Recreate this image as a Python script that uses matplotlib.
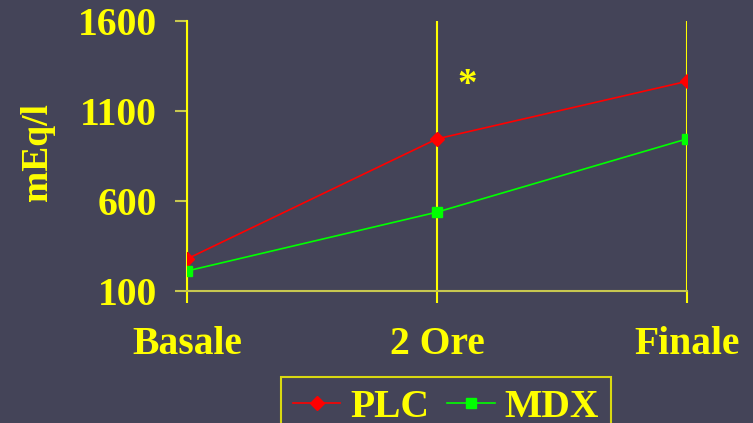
import matplotlib.pyplot as plt
from matplotlib.lines import Line2D

# Valori medi (mEq/l) per gruppo
tempi = ['Basale', '2 Ore', 'Finale']
plc = [278, 945, 1265]
mdx = [211, 538, 945]
y_ticks = [100, 600, 1100, 1600]

bg = '#444458'
giallo = '#ffff00'
giallo_scuro = '#c8c850'

plt.rcParams['font.family'] = ['Liberation Serif', 'DejaVu Serif']
plt.rcParams['font.weight'] = 'bold'

fig = plt.figure(figsize=(7.53, 4.23), dpi=100)
fig.patch.set_facecolor(bg)
ax = fig.add_axes([0.2483, 0.3121, 0.6641, 0.6383])
ax.set_facecolor(bg)

x = range(len(tempi))
ax.plot(x, plc, color='#ff0000', lw=1.2, marker='D', ms=7, label='PLC', zorder=3)
ax.plot(x, mdx, color='#00ff00', lw=1.2, marker='s', ms=7.5, label='MDX', zorder=3)

ax.set_xlim(0, 2)
ax.set_ylim(100, 1600)
ax.set_xticks(list(x))
ax.set_xticklabels(tempi)
ax.set_yticks(y_ticks)

# linee verticali per ogni tempo
for xi in x:
    ax.axvline(xi, color=giallo, lw=1.5, zorder=1)

for s in ['top', 'right']:
    ax.spines[s].set_visible(False)
ax.spines['left'].set_color(giallo)
ax.spines['left'].set_linewidth(1.5)
ax.spines['bottom'].set_color(giallo_scuro)
ax.spines['bottom'].set_linewidth(1.5)

ax.tick_params(axis='x', colors=giallo, length=8.5, width=1.5, pad=17, labelsize=28.5)
ax.tick_params(axis='y', colors=giallo_scuro, length=8.5, width=1.5, pad=13, labelsize=28.5,
               labelcolor=giallo)

fig.text(37 / 753, 1 - 152 / 423, 'mEq/l', rotation=90, color=giallo, fontsize=27,
         fontweight='bold', ha='center', va='center')

ax.text(467 / 753, 1 - 86 / 423, '*', transform=fig.transFigure, color=giallo,
        fontsize=28, fontweight='bold', ha='center', va='center')

leg = fig.legend(handles=[Line2D([], [], color='#ff0000', lw=1.2, marker='D', ms=7),
                          Line2D([], [], color='#00ff00', lw=1.2, marker='s', ms=7.5)],
                 labels=['PLC', 'MDX'], loc='upper left',
                 bbox_to_anchor=(281 / 753, 1 - 377 / 423), ncol=2, frameon=True,
                 fancybox=False, facecolor=bg, edgecolor=giallo, fontsize=28.5,
                 handlelength=1.2, handletextpad=0.25, columnspacing=0.45,
                 borderpad=0.3, borderaxespad=0)
leg.get_frame().set_linewidth(1.5)
for t in leg.get_texts():
    t.set_color(giallo)

fig.savefig('out.png', dpi=100, facecolor=bg)
